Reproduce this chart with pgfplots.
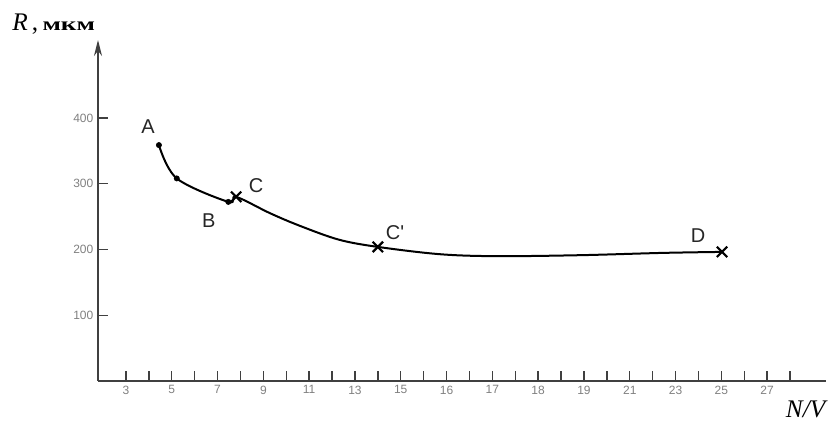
\documentclass[border=0pt]{standalone}
\usepackage{fontspec}
\setmainfont{Liberation Serif}
\newfontfamily\lsans{Liberation Sans}
\usepackage{graphicx}
\usepackage{pgfplots}
\pgfplotsset{compat=1.18}
\usetikzlibrary{arrows.meta}
\begin{document}
\begin{tikzpicture}
\path[use as bounding box] (0,0) rectangle (621pt,318pt);
\begin{axis}[
  at={(73.5pt,32.25pt)}, anchor=south west, scale only axis,
  width=546pt, height=255.75pt,
  xmin=1.78, xmax=33.57, ymin=0, ymax=518.8,
  axis lines=left,
  axis line style={draw=black!75, line width=1.3pt},
  x axis line style={-},
  y axis line style={-{Stealth[length=12pt,width=6pt]}},
  xtick={3,5,...,31},
  xticklabels={3,5,7,9,11,13,15,16,17,18,19,21,23,25,27},
  minor xtick={4,6,...,32},
  ytick={100,200,300,400},
  /pgf/number format/assume math mode=true,
  tick align=inside,
  major tick length=7.5pt, minor tick length=7.5pt,
  every tick/.style={black!75, line width=1pt},
  ticklabel style={font=\lsans\fontsize{9}{9}\selectfont, text=black!50},
  clip=false,
]
\addplot[smooth, tension=0.55, line width=1.5pt, black] coordinates {
  (4.44,358.9) (5.22,308.2) (7.47,272.5) (7.81,280.2) (9.29,255.3)
  (10.6,236) (12.3,215) (14.0,204) (16.71,192.9) (19.2,189.9)
  (22.83,191.4) (26.45,194.9) (29.03,196.4)};
\addplot[only marks, mark=*, mark size=2pt, black] coordinates {
  (4.44,358.9) (5.22,308.2) (7.47,272.5)};
\addplot[only marks, mark=x, mark size=5.5pt, black, mark options={line width=1.6pt}] coordinates {
  (7.81,280.2) (14.0,204) (29.03,196.4)};
\begin{scope}[every node/.style={font=\lsans\fontsize{15}{15}\selectfont, text=black!85}]
\node at (axis cs:3.96,386.3) {A};
\node at (axis cs:6.62,244.7) {B};
\node at (axis cs:8.68,296.5) {C};
\node at (axis cs:14.75,226.4) {C'};
\node at (axis cs:27.98,221.8) {D};
\end{scope}
\end{axis}
\node[anchor=base west, inner sep=0pt] at (9pt,295pt)
  {\fontsize{19}{19}\selectfont\textit{R}\,,\,\scalebox{1.45}[1]{\fontsize{14}{14}\selectfont\textbf{мкм}}};
\node[anchor=base east, inner sep=0pt] at (621pt,4.5pt)
  {\fontsize{19}{19}\selectfont\textit{N/V}};
\end{tikzpicture}
\end{document}
